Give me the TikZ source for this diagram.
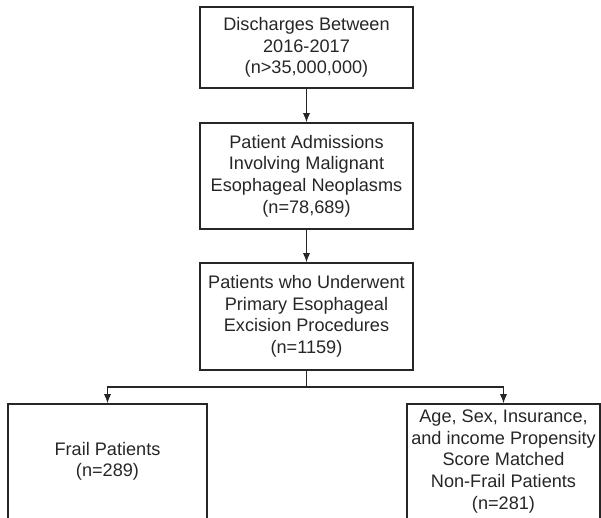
\documentclass[tikz,border=0pt]{standalone}
\usepackage{fontspec}
\setmainfont{Liberation Sans}
\usetikzlibrary{arrows.meta}

\tikzset{
  flowbox/.style={draw=black!85, line width=1pt, align=center, inner sep=2pt,
    font=\fontsize{13.6}{16.2}\selectfont, text=black!85},
  flowarrow/.style={draw=black!85, line width=1pt, -{Latex[length=7pt,width=5.5pt]}}
}

\begin{document}
\begin{tikzpicture}[x=0.75pt, y=-0.75pt]
                    \useasboundingbox (0,0) rectangle (601,518);
                    \clip (0,0) rectangle (601,518);
                    \node[flowbox, minimum width=159.75pt, minimum height=60.75pt] (dis) at (306.5,47.5) {Discharges Between\\2016-2017\\(n>35,000,000)};
                    \node[flowbox, minimum width=159.75pt, minimum height=79.5pt] (adm) at (306.5,176) {Patient Admissions\\Involving Malignant\\Esophageal Neoplasms\\(n=78,689)};
                    \node[flowbox, minimum width=159.75pt, minimum height=80.25pt] (exc) at (306.5,316.5) {Patients who Underwent\\Primary Esophageal\\Excision Procedures\\(n=1159)};
                    \node[flowbox, minimum width=149.25pt, minimum height=86.25pt] (frail) at (107.5,461.5) {Frail Patients\\(n=289)};
                    \node[flowbox, minimum width=144.75pt, minimum height=86.25pt] (nonfrail) at (503.5,461.5) {Age, Sex, Insurance,\\and income Propensity\\Score Matched\\Non-Frail Patients\\(n=281)};
                    \coordinate (split) at (306.5,387);
                    \draw[flowarrow] (dis) -- (adm);
                    \draw[flowarrow] (adm) -- (exc);
                    \draw[draw=black!85, line width=1pt] (exc) -- (split);
                    \draw[flowarrow] (split) -| (frail);
                    \draw[flowarrow] (split) -| (nonfrail);
                \end{tikzpicture}
\end{document}
